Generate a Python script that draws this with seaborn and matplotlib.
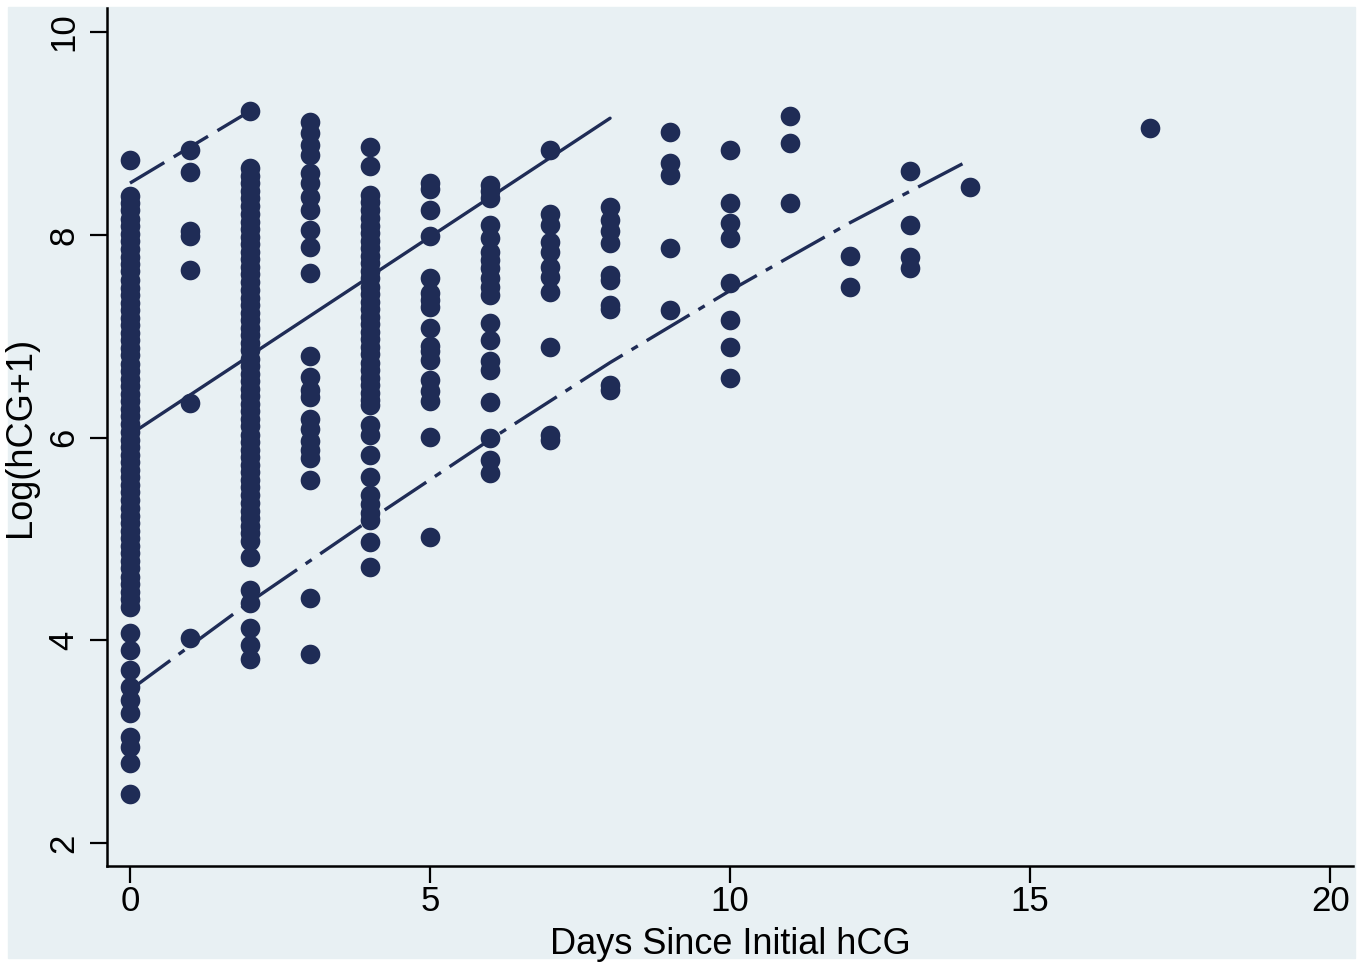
import matplotlib
matplotlib.use("Agg")
import matplotlib.pyplot as plt
from matplotlib.patches import Rectangle
import pandas as pd
import seaborn as sns

# days since initial hCG for each column of points
day0 = [8.74, 8.38, 8.31, 8.24, 8.16, 8.09, 8.01, 7.94, 7.86, 7.78, 7.71, 7.64, 7.55,
        7.48, 7.41, 7.33, 7.26, 7.18, 7.11, 7.03, 6.96, 6.88, 6.81, 6.73, 6.66, 6.58,
        6.51, 6.43, 6.36, 6.28, 6.21, 6.13, 6.06, 5.98, 5.91, 5.83, 5.76, 5.68, 5.61,
        5.53, 5.46, 5.38, 5.31, 5.23, 5.16, 5.08, 5.01, 4.93, 4.86, 4.78, 4.71, 4.63,
        4.56, 4.48, 4.41, 4.33, 4.07, 3.91, 3.71, 3.54, 3.41, 3.28, 3.05, 2.95, 2.79, 2.49]
day1 = [8.84, 8.62, 8.04, 7.99, 7.65, 6.34, 4.02]
day2 = [9.22, 8.66, 8.58, 8.51, 8.43, 8.36, 8.28, 8.21, 8.13, 8.06, 7.98, 7.91, 7.83,
        7.76, 7.68, 7.61, 7.53, 7.46, 7.38, 7.31, 7.23, 7.16, 7.08, 7.01, 6.93, 6.86,
        6.78, 6.71, 6.63, 6.56, 6.48, 6.41, 6.33, 6.26, 6.18, 6.11, 6.03, 5.96, 5.88,
        5.81, 5.73, 5.66, 5.58, 5.51, 5.43, 5.36, 5.28, 5.21, 5.13, 5.06, 4.98, 4.82,
        4.50, 4.37, 4.12, 3.95, 3.82]
day3 = [9.11, 9.00, 8.89, 8.79, 8.61, 8.51, 8.37, 8.24, 8.05, 7.88, 7.62, 6.80, 6.60,
        6.47, 6.40, 6.18, 6.08, 5.97, 5.88, 5.80, 5.58, 4.42, 3.87]
day4 = [8.87, 8.68, 8.39, 8.32, 8.24, 8.17, 8.09, 8.02, 7.94, 7.87, 7.79, 7.72, 7.64,
        7.57, 7.49, 7.42, 7.34, 7.27, 7.19, 7.12, 7.04, 6.97, 6.89, 6.82, 6.74, 6.67,
        6.59, 6.52, 6.44, 6.37, 6.32, 6.12, 6.03, 5.83, 5.61, 5.43, 5.35, 5.26, 5.19,
        4.97, 4.72]
day5 = [8.51, 8.45, 8.24, 7.99, 7.57, 7.43, 7.36, 7.29, 7.08, 6.90, 6.85, 6.77, 6.57,
        6.46, 6.36, 6.01, 5.02]
day6 = [8.49, 8.43, 8.36, 8.10, 7.97, 7.83, 7.75, 7.67, 7.57, 7.49, 7.41, 7.13, 6.96,
        6.76, 6.67, 6.35, 6.00, 5.78, 5.65]
day7 = [8.84, 8.21, 8.10, 7.93, 7.83, 7.68, 7.58, 7.44, 6.89, 6.03, 5.98]
day8 = [8.27, 8.15, 8.04, 7.92, 7.60, 7.55, 7.31, 7.27, 6.52, 6.47]
day9 = [9.01, 8.71, 8.59, 7.87, 7.26]
day10 = [8.84, 8.31, 8.12, 7.97, 7.52, 7.16, 6.89, 6.59]
day11 = [9.17, 8.91, 8.31]
day12 = [7.79, 7.49]
day13 = [8.63, 8.10, 7.78, 7.67]
day14 = [8.47]
day17 = [9.05]

columns = {0: day0, 1: day1, 2: day2, 3: day3, 4: day4, 5: day5, 6: day6, 7: day7,
           8: day8, 9: day9, 10: day10, 11: day11, 12: day12, 13: day13, 14: day14,
           17: day17}

# fitted lines
upper_x = [0, 2]
upper_y = [8.51, 9.22]
mid_x = [0, 8]
mid_y = [6.03, 9.15]
lower_x = [0, 2, 4, 6, 8, 10, 12, 14]
lower_y = [3.51, 4.38, 5.19, 5.98, 6.74, 7.45, 8.12, 8.74]

xticks = [0, 5, 10, 15, 20]
yticks = [2, 4, 6, 8, 10]

rows = [(d, v) for d, vals in columns.items() for v in vals]
df = pd.DataFrame(rows, columns=["days", "loghcg"])

bg = "#e8f0f3"
navy = "#1f2c56"

sns.set_style("ticks", {"axes.facecolor": bg, "text.color": "black",
                        "axes.labelcolor": "black", "xtick.color": "black",
                        "ytick.color": "black"})
plt.rcParams["font.family"] = ["Liberation Sans", "DejaVu Sans"]

fig = plt.figure(figsize=(13.68, 9.65), dpi=100)
fig.patch.set_facecolor("white")
fig.patches.append(Rectangle((8 / 1368, 7 / 965), 1347 / 1368, 951 / 965,
                             transform=fig.transFigure, color=bg, zorder=-10))
ax = fig.add_axes([107 / 1368, 1 - 866 / 965, 1246 / 1368, 858 / 965])

sns.scatterplot(data=df, x="days", y="loghcg", color=navy, s=200,
                linewidth=0, ax=ax, zorder=3)

ax.plot(upper_x, upper_y, color=navy, lw=2.4, dashes=(12, 3.3), zorder=4)
ax.plot(mid_x, mid_y, color=navy, lw=2.4, zorder=4)
ax.plot(lower_x, lower_y, color=navy, lw=2.4, dashes=(15, 3.1, 2.2, 3.1), zorder=4)

ax.set_xlim(-0.383, 20.38)
ax.set_ylim(1.775, 10.237)
ax.set_xticks(xticks)
ax.set_yticks(yticks)

ax.spines["top"].set_visible(False)
ax.spines["right"].set_visible(False)
for s in ["left", "bottom"]:
    ax.spines[s].set_linewidth(1.8)
    ax.spines[s].set_color("black")

ax.tick_params(axis="both", length=12, width=1.6, color="black",
               labelcolor="black", labelsize=25)
ax.tick_params(axis="y", labelrotation=90, pad=7)
ax.tick_params(axis="x", pad=2)
for lbl in ax.get_yticklabels():
    lbl.set_va("center")

ax.set_xlabel("Days Since Initial hCG", fontsize=26, labelpad=6, color="black")
ax.set_ylabel("Log(hCG+1)", fontsize=26, labelpad=7, color="black")

fig.savefig("out.png", dpi=100)
